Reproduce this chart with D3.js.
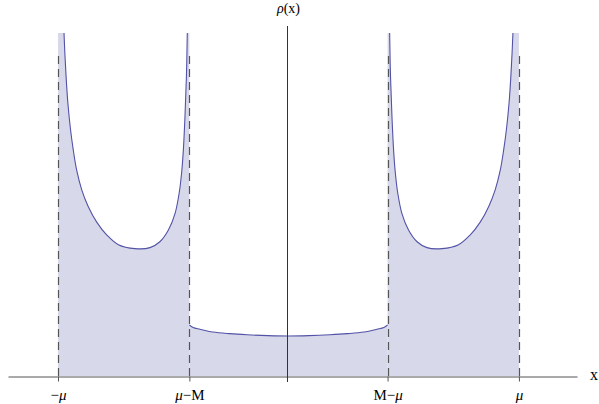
<!DOCTYPE html>
<html>
<head>
<meta charset="utf-8">
<script src="https://cdn.jsdelivr.net/npm/d3@7"></script>
<style>
  body { margin: 0; background: #fff; }
  text { font-family: "Liberation Serif", "DejaVu Serif", serif; }
</style>
</head>
<body>
<div id="chart"></div>
<script>
// tick positions (mu = 1, M - mu = 0.43) and their labels
var xTicks = [-1, -0.43, 0.43, 1];
var xTickLabels = ['\u2212\u03bc', '\u03bc\u2212M', 'M\u2212\u03bc', '\u03bc'];

// rho(x) on the three branches (6 = runs off the top)
var leftX = [-1, -0.974, -0.965, -0.957, -0.946, -0.934, -0.919, -0.897, -0.869, -0.832, -0.789, -0.738, -0.666,
  -0.601, -0.558, -0.521, -0.492, -0.474, -0.463, -0.456, -0.449, -0.443, -0.439, -0.43];
var leftRho = [6, 3.50, 3.06, 2.78, 2.52, 2.31, 2.10, 1.90, 1.73, 1.57, 1.44, 1.34, 1.30,
  1.31, 1.37, 1.49, 1.66, 1.87, 2.09, 2.31, 2.65, 3.04, 3.50, 6];

var midX = [-0.43, -0.414, -0.384, -0.328, -0.254, -0.180, -0.089, 0, 0.089, 0.180, 0.254, 0.328, 0.384, 0.414, 0.43];
var midRho = [0.52, 0.495, 0.477, 0.449, 0.432, 0.421, 0.412, 0.408, 0.412, 0.421, 0.432, 0.449, 0.477, 0.495, 0.52];

var rightX = [0.43, 0.439, 0.443, 0.449, 0.456, 0.463, 0.474, 0.492, 0.521, 0.558, 0.601, 0.666,
  0.738, 0.789, 0.832, 0.869, 0.897, 0.919, 0.934, 0.946, 0.957, 0.965, 0.974, 1];
var rightRho = [6, 3.50, 3.04, 2.65, 2.31, 2.09, 1.87, 1.66, 1.49, 1.37, 1.31, 1.30,
  1.34, 1.44, 1.57, 1.73, 1.90, 2.10, 2.31, 2.52, 2.78, 3.06, 3.50, 6];

var yMax = 3.5;
var dashTop = 3.3;

var width = 599, height = 404;
var x = d3.scaleLinear().domain([-1.217, 1.252]).range([8, 577]);
var y = d3.scaleLinear().domain([0, yMax]).range([376, 33]);

var svg = d3.select('#chart')
  .append('svg')
  .attr('width', width)
  .attr('height', height);

svg.append('clipPath')
  .attr('id', 'plotclip')
  .append('rect')
  .attr('x', x.range()[0])
  .attr('y', y(yMax))
  .attr('width', x.range()[1] - x.range()[0])
  .attr('height', y(0) - y(yMax));

function zip(xs, ys){
  return xs.map(function(v, i){ return {x: v, rho: ys[i]}; });
}
var branches = [zip(leftX, leftRho), zip(midX, midRho), zip(rightX, rightRho)];

var curve = d3.curveCatmullRom.alpha(0.5);

var area = d3.area()
  .curve(curve)
  .x(function(d){ return x(d.x); })
  .y0(y(0))
  .y1(function(d){ return y(d.rho); });

var line = d3.line()
  .curve(curve)
  .x(function(d){ return x(d.x); })
  .y(function(d){ return y(d.rho); });

var plot = svg.append('g').attr('clip-path', 'url(#plotclip)');

plot.selectAll('path.fill')
  .data(branches)
  .enter()
    .append('path')
    .classed('fill', true)
    .attr('d', area)
    .attr('fill', '#d8d8eb');

// dashed guides at the edges of the support
svg.selectAll('line.guide')
  .data(xTicks)
  .enter()
    .append('line')
    .classed('guide', true)
    .attr('x1', function(d){ return Math.round(x(d)) + 0.5; })
    .attr('x2', function(d){ return Math.round(x(d)) + 0.5; })
    .attr('y1', y(0))
    .attr('y2', y(dashTop))
    .attr('stroke', '#555')
    .attr('stroke-width', 1.2)
    .attr('stroke-dasharray', '8,5');

plot.selectAll('path.curve')
  .data(branches)
  .enter()
    .append('path')
    .classed('curve', true)
    .attr('d', line)
    .attr('fill', 'none')
    .attr('stroke', '#5252a6')
    .attr('stroke-width', 1.1);

// x axis
var xAxis = svg.append('g')
  .attr('transform', 'translate(0,' + (y(0) + 0.5) + ')')
  .call(d3.axisBottom(x).tickValues(xTicks).tickSize(5).tickSizeOuter(0));
xAxis.select('.domain').attr('stroke', '#555');
xAxis.selectAll('.tick line').attr('stroke', '#555');
xAxis.selectAll('.tick text')
  .attr('y', 17)
  .attr('dy', '0.45em')
  .attr('font-size', 15)
  .attr('font-family', '"Liberation Serif", serif')
  .attr('fill', '#000')
  .text(null)
  .each(function(d, i){
    var t = d3.select(this);
    xTickLabels[i].split('').forEach(function(ch){
      t.append('tspan')
        .attr('font-style', ch === '\u03bc' ? 'italic' : 'normal')
        .text(ch);
    });
  });

// y axis
svg.append('line')
  .attr('x1', Math.round(x(0)) - 0.5)
  .attr('x2', Math.round(x(0)) - 0.5)
  .attr('y1', y(0) + 6)
  .attr('y2', y(yMax) - 7)
  .attr('stroke', '#333')
  .attr('stroke-width', 1);

// axis labels
svg.append('text')
  .attr('x', x.range()[1] + 17)
  .attr('y', y(0) + 4)
  .attr('text-anchor', 'middle')
  .attr('font-size', 16)
  .text('x');

var yLabel = svg.append('text')
  .attr('x', x(0))
  .attr('y', y(yMax) - 20)
  .attr('text-anchor', 'middle')
  .attr('font-size', 14);
yLabel.append('tspan').attr('font-style', 'italic').text('\u03c1');
yLabel.append('tspan').text('(x)');
</script>
</body>
</html>
